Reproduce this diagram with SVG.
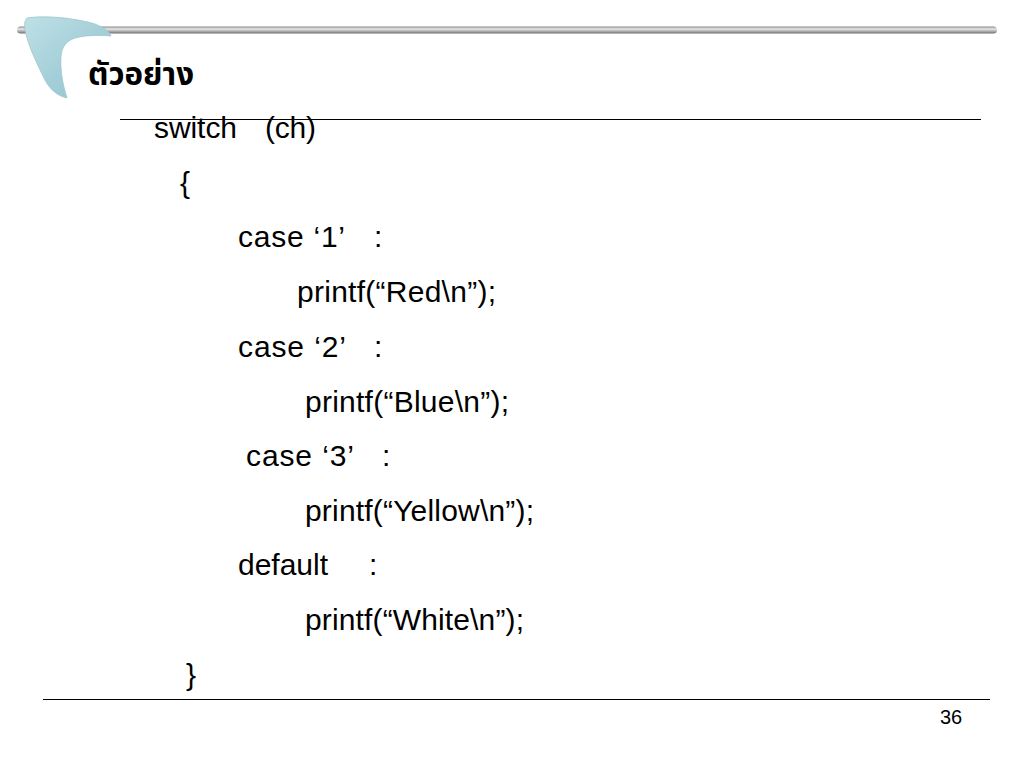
<svg xmlns="http://www.w3.org/2000/svg" width="1024" height="768" viewBox="0 0 1024 768">
<defs>
<linearGradient id="rod" x1="0" y1="0" x2="0" y2="1">
<stop offset="0" stop-color="#8a8a8a"/>
<stop offset="0.35" stop-color="#e8e8e8"/>
<stop offset="0.6" stop-color="#bdbdbd"/>
<stop offset="1" stop-color="#6e6e6e"/>
</linearGradient>
<linearGradient id="boom" x1="0" y1="0" x2="1" y2="1">
<stop offset="0" stop-color="#bfe0e6"/>
<stop offset="0.5" stop-color="#a6d0d9"/>
<stop offset="1" stop-color="#8ec2cc"/>
</linearGradient>
<style>
.code{font-family:"Liberation Sans",Arial,sans-serif;font-size:30px;fill:#000}
.rule{stroke:#000;stroke-width:1.2}
</style>
</defs>
<rect width="1024" height="768" fill="#fff"/>
<rect x="17" y="26.5" width="980" height="7" rx="3.5" fill="url(#rod)"/>
<path d="M27,18 C45,15 75,18 95,24 C105,28 110,32 111,36 C100,35 85,35 75,38 C66,41 62,47 61,56 C60,71 63,85 67,98 C58,96 50,90 45,80 C36,62 28,45 25,30 C24,24 25,20 27,18 Z" fill="url(#boom)" stroke="#9cc7cf" stroke-width="0.8"/>
<text x="88" y="85" font-family="'Noto Sans Thai','Noto Sans','DejaVu Sans',sans-serif" font-size="31" font-weight="bold" fill="#000" textLength="106" lengthAdjust="spacingAndGlyphs">ตัวอย่าง</text>
<line class="rule" x1="120" y1="119.5" x2="981" y2="119.5"/>
<line class="rule" x1="43" y1="699.5" x2="990" y2="699.5"/>
<g class="code">
<text x="154" y="138" textLength="83">switch</text><text x="265" y="138" textLength="51">(ch)</text>
<text x="180" y="193">{</text>
<text x="238" y="247" textLength="107">case ‘1’</text><text x="374" y="247">:</text>
<text x="297" y="302" textLength="199">printf(“Red\n”);</text>
<text x="238" y="357" textLength="108">case ‘2’</text><text x="374" y="357">:</text>
<text x="305" y="412" textLength="204">printf(“Blue\n”);</text>
<text x="246" y="466" textLength="108">case ‘3’</text><text x="382" y="466">:</text>
<text x="305" y="521" textLength="229">printf(“Yellow\n”);</text>
<text x="238" y="575" textLength="90">default</text><text x="369" y="575">:</text>
<text x="305" y="630" textLength="219">printf(“White\n”);</text>
<text x="186" y="685">}</text>
</g>
<text x="940" y="724" font-family="'Liberation Sans',Arial,sans-serif" font-size="20" fill="#000" textLength="22">36</text>
</svg>
